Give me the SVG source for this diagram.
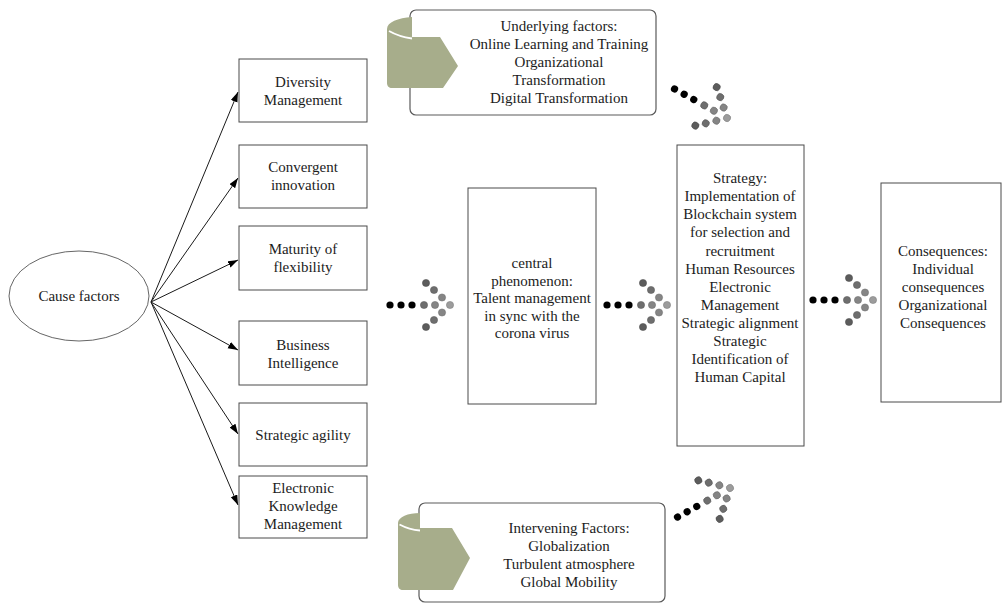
<svg xmlns="http://www.w3.org/2000/svg" width="1002" height="604" viewBox="0 0 1002 604">
<style>
  .t { font-family: "Liberation Serif", "Times New Roman", serif; font-size: 15px; fill: #1c1c1c; text-anchor: middle; }
  .box { fill: #ffffff; stroke: #4a4a4a; stroke-width: 1; }
  .call { fill: #ffffff; stroke: #5a5a5a; stroke-width: 1.2; }
  .scroll { fill: #a7ad8b; }
  .curl { fill: none; stroke: #ffffff; stroke-width: 1.8; }
  .conn { stroke: #1a1a1a; stroke-width: 1; fill: none; marker-end: url(#ah); }
  .k { fill: #000000; }
  .g1 { fill: #5c5c5c; stroke: #4a4a4a; stroke-width: 0.5; }
  .g2 { fill: #6e6e6e; stroke: #555; stroke-width: 0.5; }
  .g3 { fill: #858585; stroke: #666; stroke-width: 0.5; }
  .g4 { fill: #9c9c9c; stroke: #777; stroke-width: 0.5; }
</style>
<defs>
  <marker id="ah" markerUnits="userSpaceOnUse" markerWidth="10" markerHeight="8" refX="10" refY="3.5" orient="auto">
    <path d="M0,0 L10,3.5 L0,7 Z" fill="#000"/>
  </marker>
  <g id="dotArrow">
    <circle class="k" cx="-60" cy="0" r="3.6"/>
    <circle class="k" cx="-49" cy="0" r="3.6"/>
    <circle class="k" cx="-38" cy="0" r="3.6"/>
    <circle class="g2" cx="-26" cy="0" r="3.6"/>
    <circle class="g3" cx="-15" cy="0" r="3.6"/>
    <circle class="g1" cx="-24" cy="-22" r="3.6"/>
    <circle class="g2" cx="-16" cy="-15" r="3.6"/>
    <circle class="g3" cx="-8" cy="-7.5" r="3.6"/>
    <circle class="g4" cx="0" cy="0" r="3.6"/>
    <circle class="g3" cx="-8" cy="7.5" r="3.6"/>
    <circle class="g2" cx="-16" cy="15" r="3.6"/>
    <circle class="g1" cx="-24" cy="22" r="3.6"/>
  </g>
</defs>
<rect width="1002" height="604" fill="#ffffff"/>

<g id="connectors">
  <line class="conn" x1="151" y1="302" x2="238" y2="92"/>
  <line class="conn" x1="151" y1="302" x2="238" y2="178"/>
  <line class="conn" x1="151" y1="302" x2="238" y2="260"/>
  <line class="conn" x1="151" y1="302" x2="238" y2="350"/>
  <line class="conn" x1="151" y1="302" x2="238" y2="434"/>
  <line class="conn" x1="151" y1="302" x2="238" y2="505"/>
  <use href="#dotArrow" transform="translate(450,305)"/>
  <use href="#dotArrow" transform="translate(667,305)"/>
  <use href="#dotArrow" transform="translate(873,300)"/>
  <use href="#dotArrow" transform="translate(727,118) rotate(29)"/>
  <use href="#dotArrow" transform="translate(730,488) rotate(-29)"/>
</g>

<g id="cause">
  <ellipse cx="79" cy="296" rx="70" ry="45" fill="#fff" stroke="#666" stroke-width="1"/>
  <text class="t" x="79" y="301">Cause factors</text>
</g>

<g id="diversity">
  <rect class="box" x="239" y="59" width="128" height="63"/>
  <text class="t" x="303" y="87">Diversity</text>
  <text class="t" x="303" y="105">Management</text>
</g>
<g id="convergent">
  <rect class="box" x="239" y="145" width="128" height="63"/>
  <text class="t" x="303" y="172">Convergent</text>
  <text class="t" x="303" y="190">innovation</text>
</g>
<g id="maturity">
  <rect class="box" x="239" y="226" width="128" height="64"/>
  <text class="t" x="303" y="254">Maturity of</text>
  <text class="t" x="303" y="272">flexibility</text>
</g>
<g id="business">
  <rect class="box" x="239" y="321" width="128" height="64"/>
  <text class="t" x="303" y="350">Business</text>
  <text class="t" x="303" y="368">Intelligence</text>
</g>
<g id="agility">
  <rect class="box" x="239" y="403" width="128" height="63"/>
  <text class="t" x="303" y="440">Strategic agility</text>
</g>
<g id="ekm">
  <rect class="box" x="239" y="476" width="128" height="62"/>
  <text class="t" x="303" y="493">Electronic</text>
  <text class="t" x="303" y="511">Knowledge</text>
  <text class="t" x="303" y="529">Management</text>
</g>

<g id="central">
  <rect class="box" x="468" y="188" width="128" height="216"/>
  <text class="t" x="532" y="268">central</text>
  <text class="t" x="532" y="285.5">phenomenon:</text>
  <text class="t" x="532" y="303">Talent management</text>
  <text class="t" x="532" y="320.5">in sync with the</text>
  <text class="t" x="532" y="338">corona virus</text>
</g>

<g id="strategy">
  <rect class="box" x="677" y="145" width="127" height="301"/>
  <text class="t" x="740" y="183">Strategy:</text>
  <text class="t" x="740" y="201">Implementation of</text>
  <text class="t" x="740" y="219">Blockchain system</text>
  <text class="t" x="740" y="237">for selection and</text>
  <text class="t" x="740" y="255.5">recruitment</text>
  <text class="t" x="740" y="273.5">Human Resources</text>
  <text class="t" x="740" y="291.5">Electronic</text>
  <text class="t" x="740" y="309.5">Management</text>
  <text class="t" x="740" y="328">Strategic alignment</text>
  <text class="t" x="740" y="346">Strategic</text>
  <text class="t" x="740" y="364">Identification of</text>
  <text class="t" x="740" y="382">Human Capital</text>
</g>

<g id="consequences">
  <rect class="box" x="881" y="183" width="120" height="219"/>
  <text class="t" x="943" y="256">Consequences:</text>
  <text class="t" x="943" y="274">Individual</text>
  <text class="t" x="943" y="292">consequences</text>
  <text class="t" x="943" y="310">Organizational</text>
  <text class="t" x="943" y="328">Consequences</text>
</g>

<g id="underlying">
  <rect class="call" x="410" y="10" width="246" height="105" rx="6"/>
  <path class="scroll" d="M387,29 C387,22 398,18 412,17 L412,37 L440,37 L458,66 L443,88 L392,88 C389,88 387,86 387,83 Z"/>
  <path class="curl" d="M389,31 C396,35 405,37.5 412,38.5"/>
  <text class="t" x="559" y="31">Underlying factors:</text>
  <text class="t" x="559" y="49">Online Learning and Training</text>
  <text class="t" x="559" y="67">Organizational</text>
  <text class="t" x="559" y="85">Transformation</text>
  <text class="t" x="559" y="103">Digital Transformation</text>
</g>

<g id="intervening">
  <rect class="call" x="419" y="503" width="246" height="99" rx="6"/>
  <path class="scroll" d="M398,523 C398,517 408,513 420,513 L420,528 L452,528 L470,558 L453,590 L403,590 C400,590 398,588 398,585 Z"/>
  <path class="curl" d="M399.5,524.5 C406,528 413,530 420,530.5"/>
  <text class="t" x="569" y="533">Intervening Factors:</text>
  <text class="t" x="569" y="551">Globalization</text>
  <text class="t" x="569" y="569">Turbulent atmosphere</text>
  <text class="t" x="569" y="587">Global Mobility</text>
</g>
</svg>
